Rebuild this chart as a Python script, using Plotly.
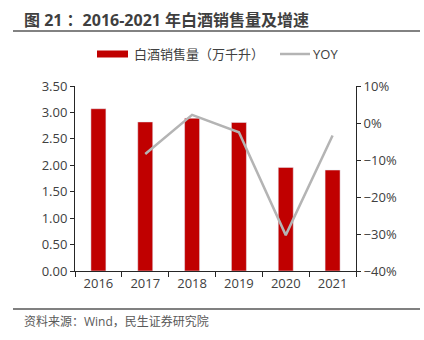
import plotly.graph_objects as go

# Baijiu sales volume (10k kL) and year-over-year growth
years = ["2016", "2017", "2018", "2019", "2020", "2021"]
volume = [3.07, 2.82, 2.89, 2.81, 1.96, 1.91]
yoy_years = ["2017", "2018", "2019", "2020", "2021"]
yoy = [-0.084, 0.022, -0.025, -0.303, -0.034]

title_text = "图 21 ：2016-2021 年白酒销售量及增速"
bar_name = "白酒销售量（万千升）"
line_name = "YOY"
source_text = "资料来源：Wind，民生证券研究院"

FONT = "Open Sans, Noto Sans CJK SC, sans-serif"
BAR_COLOR = "#C00000"
LINE_COLOR = "#B4B4B4"
TEXT_COLOR = "#404040"
AXIS_COLOR = "#262626"

fig = go.Figure()
fig.add_trace(go.Bar(x=years, y=volume, name=bar_name, marker_color=BAR_COLOR,
                     width=0.32, showlegend=False))
fig.add_trace(go.Scatter(x=yoy_years, y=yoy, name=line_name, yaxis="y2",
                         mode="lines", line=dict(color=LINE_COLOR, width=2.5),
                         showlegend=False))

fig.update_layout(
    width=424, height=340,
    margin=dict(l=75, r=68, t=86, b=69),
    paper_bgcolor="white", plot_bgcolor="white",
    font=dict(family=FONT, size=13, color=TEXT_COLOR),
    xaxis=dict(type="category", showline=True, linecolor=AXIS_COLOR, linewidth=1,
               ticks="outside", tickson="boundaries", ticklen=5, tickcolor=AXIS_COLOR,
               showgrid=False, tickfont=dict(size=13, color=TEXT_COLOR)),
    yaxis=dict(range=[0, 3.5], dtick=0.5, tickformat=".2f", showline=True,
               linecolor=AXIS_COLOR, ticks="outside", ticklen=4, tickcolor=AXIS_COLOR,
               showgrid=False, zeroline=False, tickfont=dict(size=13, color=TEXT_COLOR)),
    yaxis2=dict(range=[-0.4, 0.1], dtick=0.1, tickformat=".0%", overlaying="y",
                side="right", showline=True, linecolor=AXIS_COLOR, ticks="outside",
                ticklen=4, tickcolor=AXIS_COLOR, showgrid=False, zeroline=False,
                tickfont=dict(size=13, color=TEXT_COLOR)),
)

# Title with rule below
fig.add_annotation(text="<b>" + title_text + "</b>", xref="paper", yref="paper",
                   x=(22 - 75) / 281, y=1 + (86 - 20) / 185, xanchor="left",
                   yanchor="middle", showarrow=False,
                   font=dict(size=16, color="#3F3F3F", family=FONT))
fig.add_shape(type="line", xref="paper", yref="paper",
              x0=(13 - 75) / 281, x1=(420 - 75) / 281,
              y0=1 + (86 - 31) / 185, y1=1 + (86 - 31) / 185,
              line=dict(color="#595959", width=1.5))

# Legend row
ly = 1 + (86 - 54) / 185
fig.add_shape(type="rect", xref="paper", yref="paper",
              x0=(97 - 75) / 281, x1=(128 - 75) / 281,
              y0=ly - 3.5 / 185, y1=ly + 3.5 / 185,
              fillcolor=BAR_COLOR, line=dict(width=0))
fig.add_annotation(text=bar_name, xref="paper", yref="paper",
                   x=(132 - 75) / 281, y=ly, xanchor="left", yanchor="middle",
                   showarrow=False, font=dict(size=13, color=TEXT_COLOR))
fig.add_shape(type="line", xref="paper", yref="paper",
              x0=(280 - 75) / 281, x1=(310 - 75) / 281, y0=ly, y1=ly,
              line=dict(color=LINE_COLOR, width=2.5))
fig.add_annotation(text=line_name, xref="paper", yref="paper",
                   x=(311 - 75) / 281, y=ly, xanchor="left", yanchor="middle",
                   showarrow=False, font=dict(size=13, color=TEXT_COLOR))

# Source footer with rule above
fig.add_shape(type="line", xref="paper", yref="paper",
              x0=(13 - 75) / 281, x1=(420 - 75) / 281,
              y0=-(309 - 271) / 185, y1=-(309 - 271) / 185,
              line=dict(color="#808080", width=2))
fig.add_annotation(text=source_text, xref="paper", yref="paper",
                   x=(22 - 75) / 281, y=-(321 - 271) / 185, xanchor="left",
                   yanchor="middle", showarrow=False,
                   font=dict(size=12, color="#595959"))

fig.write_html("out.html")
